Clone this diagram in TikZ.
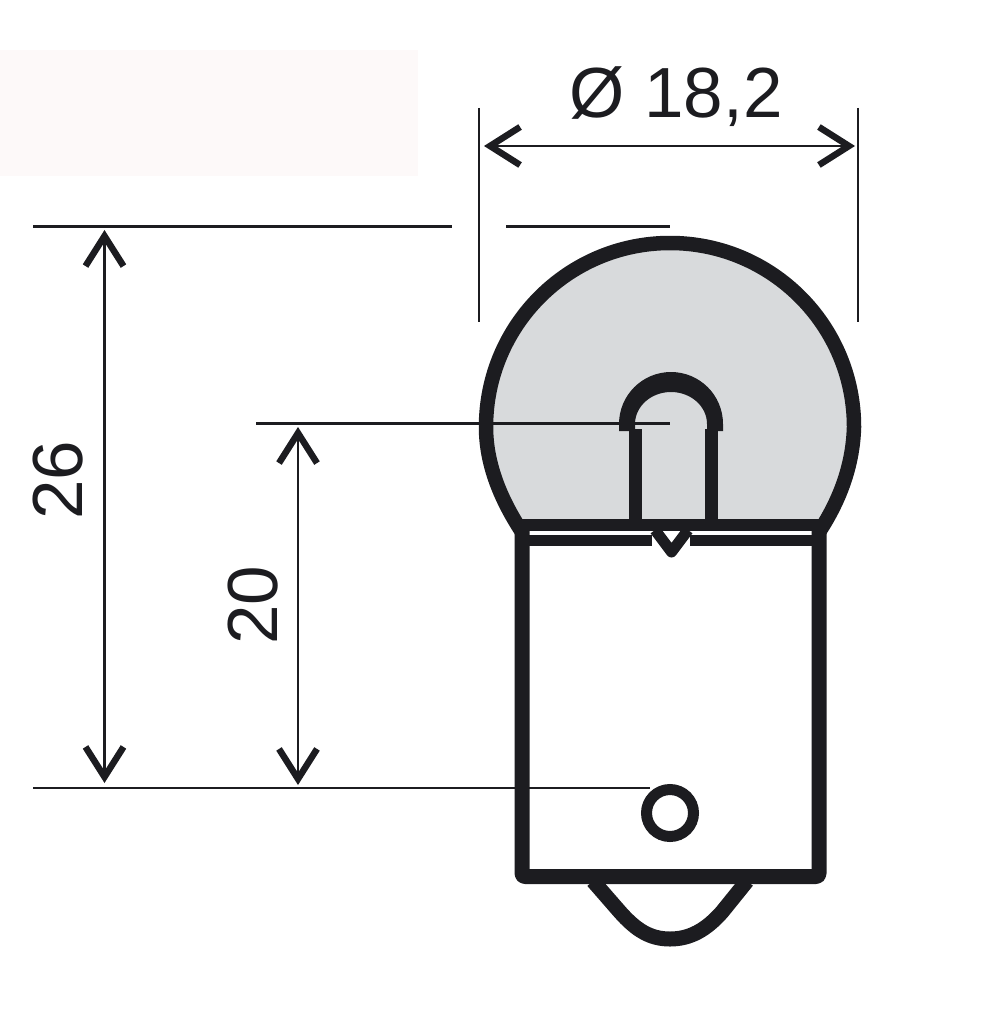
\documentclass[tikz,border=0pt]{standalone}
\usepackage{fontspec}
\setmainfont{Liberation Sans}
\usetikzlibrary{arrows.meta}
\definecolor{ink}{HTML}{1C1C20}
\definecolor{glass}{HTML}{D8DADC}
\definecolor{blush}{HTML}{FDF9F9}
\tikzset{
  dimline/.style={draw=ink,line width=2.2pt},
  dimarrow/.style={dimline,{Straight Barb[length=30pt,width=38pt,line width=6.5pt]}-{Straight Barb[length=30pt,width=38pt,line width=6.5pt]}},
  thick outline/.style={draw=ink,line join=round},
  dimtext/.style={text=ink,inner sep=0pt,font=\fontsize{71}{71}\selectfont}
}
\begin{document}
\begin{tikzpicture}[x=1pt,y=-1pt]
\useasboundingbox (0,0) rectangle (986,1024);
\fill[white] (0,0) rectangle (986,1024);
\fill[blush] (0,50) rectangle (418,176);
% glass
\fill[glass] (522,522) .. controls (499,492) and (486,462) .. (486,427) arc[start angle=180,end angle=0,radius=184pt] .. controls (853,462) and (840,492) .. (817,522) -- cycle;
% base
\draw[thick outline,line width=15pt,rounded corners=3pt] (522,530) -- (522,876.5) -- (819,876.5) -- (819,530);
% cap contact
\draw[thick outline,line width=15pt] (593,881) -- (620,912) .. controls (636,930) and (650,939) .. (670,939) .. controls (690,939) and (706,930) .. (722,912) -- (747,881);
% bulb outline
\draw[thick outline,line width=14.5pt] (522,532) .. controls (499,497) and (486,462) .. (486,427) arc[start angle=180,end angle=0,radius=184pt] .. controls (853,462) and (842,497) .. (819,532);
% bands
\draw[thick outline,line width=12pt] (520,524.5) -- (821,524.5);
\draw[thick outline,line width=11pt] (522,540.5) -- (652,540.5);
\draw[thick outline,line width=11pt] (690,540.5) -- (819,540.5);
\draw[thick outline,line width=11pt] (655,530) -- (671.5,552) -- (688,530);
% filament
\fill[ink,even odd rule] (619,431) -- (619,424) arc[start angle=180,end angle=0,radius=52pt] -- (723,431) -- (707,431) -- (707,424) arc[start angle=0,end angle=180,x radius=36pt,y radius=32pt] -- (635,431) -- cycle;
\draw[thick outline,line width=13pt] (635.5,429) -- (635.5,526);
\draw[thick outline,line width=13pt] (711.5,429) -- (711.5,526);
% socket pin
\node (pin) [circle,draw=ink,line width=11pt,minimum size=47pt,inner sep=0pt] at (670,813) {};
% dimension coordinates
\coordinate (extTopA) at (33,226.5);
\coordinate (extTopB) at (452,226.5);
\coordinate (extTopC) at (506,226.5);
\coordinate (extTopD) at (670,226.5);
\coordinate (extMidA) at (256,423.5);
\coordinate (extMidB) at (670,423.5);
\coordinate (extLowA) at (33,788);
\coordinate (extLowB) at (650,788);
\coordinate (extLeftA) at (479,108);
\coordinate (extLeftB) at (479,322);
\coordinate (extRightA) at (858,108);
\coordinate (extRightB) at (858,322);
\coordinate (dTopL) at (484,146);
\coordinate (dTopR) at (855,146);
\coordinate (d26a) at (104.5,230);
\coordinate (d26b) at (104.5,783);
\coordinate (d20a) at (298,427);
\coordinate (d20b) at (298,785);
\draw[dimline] (extTopA) -- (extTopB);
\draw[dimline] (extTopC) -- (extTopD);
\draw[dimline] (extMidA) -- (extMidB);
\draw[dimline] (extLowA) -- (extLowB);
\draw[dimline] (extLeftA) -- (extLeftB);
\draw[dimline] (extRightA) -- (extRightB);
\draw[dimarrow] (dTopL) -- (dTopR);
\draw[dimarrow] (d26a) -- (d26b);
\draw[dimarrow] (d20a) -- (d20b);
\node (labD) [dimtext,anchor=center] at (676,97) {Ø 18,2};
\node (lab26) [dimtext,rotate=90,anchor=center] at (58,480) {26};
\node (lab20) [dimtext,rotate=90,anchor=center] at (253,605) {20};
\end{tikzpicture}
\end{document}
